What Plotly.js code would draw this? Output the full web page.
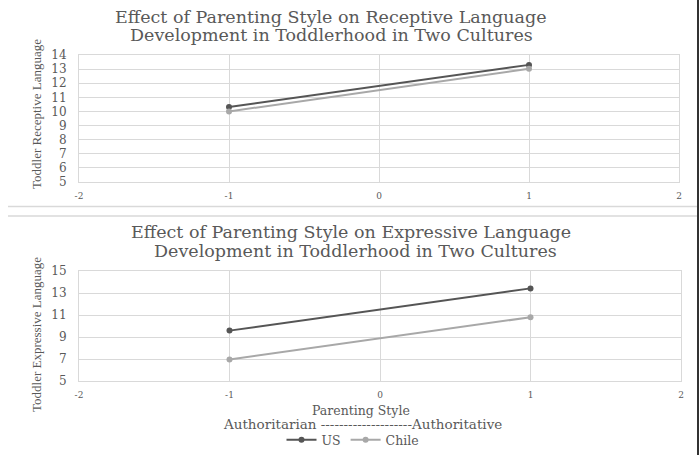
<!DOCTYPE html>
<html>
<head>
<meta charset="utf-8">
<script src="https://cdn.plot.ly/plotly-3.0.1.min.js"></script>
<style>html,body{margin:0;padding:0;background:#fff;}#chart{width:699px;height:455px;}</style>
</head>
<body>
<div id="chart"></div>
<script>
// Data
const parentingStyle = [-1, 1];
const receptiveUS = [10.32, 13.3];
const receptiveChile = [10.0, 13.02];
const expressiveUS = [9.58, 13.42];
const expressiveChile = [6.95, 10.8];
const xTicks = [-2, -1, 0, 1, 2];
const yTicksTop = [5, 6, 7, 8, 9, 10, 11, 12, 13, 14];
const yTicksBottom = [5, 7, 9, 11, 13, 15];
const seriesNames = ['US', 'Chile'];

const W = 699, H = 455;
const px = x => x / W;
const py = y => (H - y) / H;

const usColor = '#555555';
const chColor = '#a8a8a8';
const textColor = '#595959';
const gridColor = '#d9d9d9';
const serif = 'DejaVu Serif, serif';
const narrow = 'Liberation Serif, serif';

const traces = [
  {x: parentingStyle, y: receptiveUS, name: seriesNames[0], mode: 'lines+markers',
   line: {color: usColor, width: 2}, marker: {color: usColor, size: 6}, xaxis: 'x', yaxis: 'y', showlegend: true},
  {x: parentingStyle, y: receptiveChile, name: seriesNames[1], mode: 'lines+markers',
   line: {color: chColor, width: 2}, marker: {color: chColor, size: 6}, xaxis: 'x', yaxis: 'y', showlegend: true},
  {x: parentingStyle, y: expressiveUS, name: seriesNames[0], mode: 'lines+markers',
   line: {color: usColor, width: 2}, marker: {color: usColor, size: 6}, xaxis: 'x2', yaxis: 'y2', showlegend: false},
  {x: parentingStyle, y: expressiveChile, name: seriesNames[1], mode: 'lines+markers',
   line: {color: chColor, width: 2}, marker: {color: chColor, size: 6}, xaxis: 'x2', yaxis: 'y2', showlegend: false}
];

function xax(domain, anchor) {
  return {domain: domain, anchor: anchor, range: [-2, 2], tickvals: xTicks, ticktext: xTicks.map(String),
    showgrid: true, gridcolor: gridColor, gridwidth: 1, zeroline: false,
    showline: true, linecolor: gridColor, linewidth: 1, mirror: true,
    ticks: '', ticklabelstandoff: 5, fixedrange: true,
    tickfont: {family: serif, size: 9, color: textColor}};
}
function yax(domain, anchor, range, ticks) {
  return {domain: domain, anchor: anchor, range: range, tickvals: ticks, ticktext: ticks.map(String),
    showgrid: true, gridcolor: gridColor, gridwidth: 1, zeroline: false,
    showline: true, linecolor: gridColor, linewidth: 1, mirror: true,
    ticks: '', ticklabelstandoff: 9, fixedrange: true,
    tickfont: {family: serif, size: 12, color: textColor}};
}

const titleFont = {family: serif, size: 17.5, color: textColor};
const labelFont = {family: serif, size: 12.5, color: textColor};

const layout = {
  width: W, height: H,
  margin: {l: 0, r: 0, t: 0, b: 0},
  paper_bgcolor: '#fff', plot_bgcolor: '#fff',
  xaxis: xax([px(79), px(679)], 'y'),
  yaxis: yax([py(182), py(55)], 'x', [5, 14], yTicksTop),
  xaxis2: xax([px(79), px(681)], 'y2'),
  yaxis2: yax([py(381), py(271)], 'x2', [5, 15], yTicksBottom),
  showlegend: true,
  legend: {orientation: 'h', x: px(353), xanchor: 'center', y: py(440), yanchor: 'middle',
    font: {family: serif, size: 12.5, color: textColor}, itemwidth: 30, tracegroupgap: 0,
    bgcolor: 'rgba(0,0,0,0)'},
  annotations: [
    {text: 'Effect of Parenting Style on Receptive Language', x: px(331), y: py(17.5), xref: 'paper', yref: 'paper',
     showarrow: false, xanchor: 'center', yanchor: 'middle', font: titleFont},
    {text: 'Development in Toddlerhood in Two Cultures', x: px(331), y: py(35.5), xref: 'paper', yref: 'paper',
     showarrow: false, xanchor: 'center', yanchor: 'middle', font: titleFont},
    {text: 'Effect of Parenting Style on Expressive Language', x: px(351), y: py(232.5), xref: 'paper', yref: 'paper',
     showarrow: false, xanchor: 'center', yanchor: 'middle', font: titleFont},
    {text: 'Development in Toddlerhood in Two Cultures', x: px(355), y: py(250.5), xref: 'paper', yref: 'paper',
     showarrow: false, xanchor: 'center', yanchor: 'middle', font: titleFont},
    {text: 'Toddler Receptive Language', x: px(36), y: py(114), xref: 'paper', yref: 'paper', textangle: -90,
     showarrow: false, xanchor: 'center', yanchor: 'middle', font: {family: narrow, size: 13, color: textColor}},
    {text: 'Toddler Expressive Language', x: px(36), y: py(335), xref: 'paper', yref: 'paper', textangle: -90,
     showarrow: false, xanchor: 'center', yanchor: 'middle', font: {family: narrow, size: 13, color: textColor}},
    {text: 'Parenting Style', x: px(361), y: py(410), xref: 'paper', yref: 'paper',
     showarrow: false, xanchor: 'center', yanchor: 'middle', font: labelFont},
    {text: 'Authoritarian --------------------Authoritative', x: px(362), y: py(424), xref: 'paper', yref: 'paper',
     showarrow: false, xanchor: 'center', yanchor: 'middle', font: {family: serif, size: 13.5, color: textColor}}
  ],
  shapes: [
    {type: 'line', xref: 'paper', yref: 'paper', x0: px(8), x1: 1, y0: py(206.5), y1: py(206.5), line: {color: gridColor, width: 1.5}},
    {type: 'line', xref: 'paper', yref: 'paper', x0: px(8), x1: 1, y0: py(216), y1: py(216), line: {color: gridColor, width: 1.5}},
    {type: 'line', xref: 'paper', yref: 'paper', x0: px(698), x1: px(698), y0: 0, y1: 1, line: {color: '#333', width: 2}}
  ]
};

Plotly.newPlot('chart', traces, layout, {displayModeBar: false, staticPlot: true});
</script>
</body>
</html>
